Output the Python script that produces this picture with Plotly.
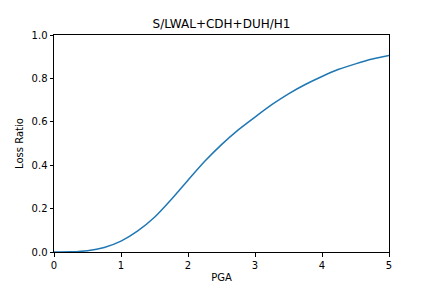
import plotly.graph_objects as go

pga = [0.0, 0.25, 0.5, 0.75, 1.0, 1.25, 1.5, 1.75, 2.0, 2.25, 2.5, 2.75, 3.0,
       3.25, 3.5, 3.75, 4.0, 4.25, 4.5, 4.75, 5.0]
loss_ratio = [0.0, 0.0008, 0.006, 0.021, 0.05, 0.097, 0.16, 0.242, 0.331, 0.418,
              0.495, 0.563, 0.622, 0.679, 0.729, 0.772, 0.809, 0.842, 0.867, 0.889, 0.905]
x_ticks = [0, 1, 2, 3, 4, 5]
y_ticks = [0.0, 0.2, 0.4, 0.6, 0.8, 1.0]
y_tick_labels = ["0.0", "0.2", "0.4", "0.6", "0.8", "1.0"]

fig = go.Figure()
fig.add_trace(go.Scatter(x=pga, y=loss_ratio, mode="lines", line_shape="spline",
                         line=dict(color="#1f77b4", width=1.5, smoothing=0.6)))

axis_common = dict(showgrid=False, zeroline=False, showline=True, linecolor="black",
                   linewidth=1, mirror=True, ticks="outside", ticklen=3.5,
                   tickwidth=0.8, tickcolor="black", automargin=False,
                   tickfont=dict(family="DejaVu Sans", size=10, color="black"))

fig.update_layout(
    width=432, height=288,
    margin=dict(l=54, r=43, t=35, b=36),
    paper_bgcolor="white", plot_bgcolor="white",
    showlegend=False,
    font=dict(family="DejaVu Sans", size=10, color="black"),
    title=dict(text="S/LWAL+CDH+DUH/H1", x=0.5, xref="paper", xanchor="center",
               y=1 - 24 / 288, yref="container", yanchor="middle",
               font=dict(family="DejaVu Sans", size=12, color="black")),
    xaxis=dict(range=[0, 5], tickvals=x_ticks,
               title=dict(text="PGA", standoff=4,
                          font=dict(family="DejaVu Sans", size=10)),
               **axis_common),
    yaxis=dict(range=[0, 1], tickvals=y_ticks, ticktext=y_tick_labels,
               title=dict(text="Loss Ratio", standoff=6,
                          font=dict(family="DejaVu Sans", size=10)),
               **axis_common),
)

fig.write_html("out.html")
